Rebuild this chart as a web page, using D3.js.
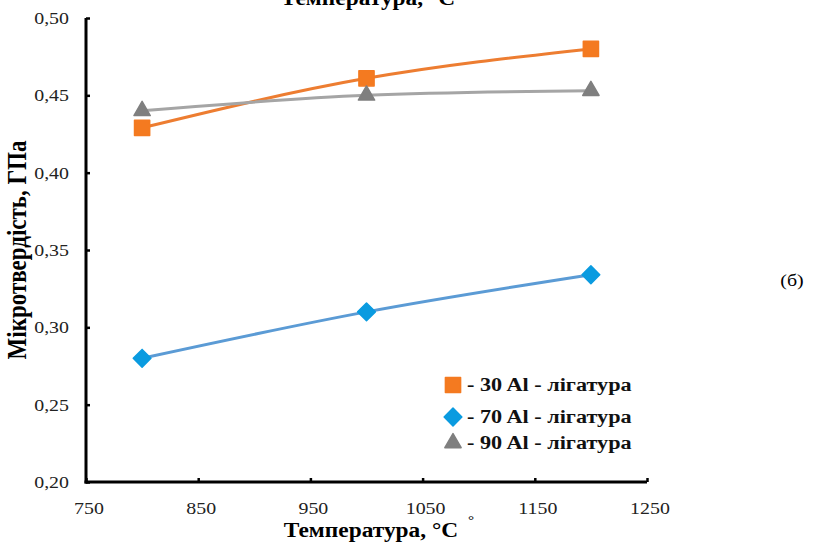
<!DOCTYPE html>
<html lang="uk">
<head>
<meta charset="utf-8">
<title>Мікротвердість</title>
<script src="https://d3js.org/d3.v7.min.js"></script>
<style>
  body { margin: 0; background: #fff; }
  svg text { font-family: "Liberation Serif", "Times New Roman", serif; }
</style>
</head>
<body>
<div id="chart"></div>
<script>
// values
var temps = [800, 1000, 1200];
var al30 = [0.429, 0.461, 0.480];
var al70 = [0.280, 0.310, 0.334];
var al90 = [0.440, 0.450, 0.453];
var seriesNames = ["- 30 Al - лігатура", "- 70 Al - лігатура", "- 90 Al - лігатура"];
var xTicks = [750, 850, 950, 1050, 1150, 1250];
var yTicks = [0.20, 0.25, 0.30, 0.35, 0.40, 0.45, 0.50];

var w = 813, h = 546;
var margin = {top: 18, right: 166, bottom: 64, left: 86};
var stretch = 1.17; // the source image is a bit wider than tall

var svg = d3.select("#chart").append("svg")
  .attr("width", w)
  .attr("height", h);

var xScale = d3.scaleLinear().domain([750, 1250]).range([margin.left, w - margin.right]);
var yScale = d3.scaleLinear().domain([0.20, 0.50]).range([h - margin.bottom, margin.top]);

var fmt = function(d) { return d3.format(".2f")(d).replace(".", ","); };
var at = function(x, y) { return "translate(" + x + "," + y + ") scale(" + stretch + ",1)"; };

// axes
var yAxis = svg.append("g")
  .attr("transform", "translate(" + margin.left + ",0)")
  .call(d3.axisRight(yScale).tickValues(yTicks).tickSize(4).tickFormat(""));
yAxis.select(".domain").attr("stroke-width", 3).attr("d", "M0," + yScale(0.50) + "V" + (yScale(0.20) + 1.5));
yAxis.selectAll(".tick line").attr("stroke-width", 2.5);

var xAxis = svg.append("g")
  .attr("transform", "translate(0," + (h - margin.bottom) + ")")
  .call(d3.axisTop(xScale).tickValues(xTicks).tickSize(4).tickFormat(""));
xAxis.select(".domain").attr("stroke-width", 3).attr("d", "M" + (margin.left - 1.5) + ",0H" + xScale(1250));
xAxis.selectAll(".tick line").attr("stroke-width", 2.5);

// tick labels
svg.append("g").selectAll("text").data(yTicks).join("text")
  .attr("transform", function(d) { return at(69, yScale(d) + 6); })
  .attr("text-anchor", "end")
  .attr("font-size", 17)
  .attr("fill", "#222")
  .text(fmt);

svg.append("g").selectAll("text").data(xTicks).join("text")
  .attr("transform", function(d) { return at(xScale(d) + 3, 514); })
  .attr("text-anchor", "middle")
  .attr("font-size", 17)
  .attr("fill", "#222")
  .text(function(d) { return d; });

// axis titles
svg.append("text")
  .attr("transform", at(371, 537))
  .attr("text-anchor", "middle")
  .attr("font-size", 20).attr("font-weight", "bold")
  .text("Температура, °С");
svg.append("text")
  .attr("transform", at(471, 524))
  .attr("text-anchor", "middle")
  .attr("font-size", 13)
  .text("°");

// cropped title at the very top
svg.append("text")
  .attr("transform", at(368, 5))
  .attr("text-anchor", "middle")
  .attr("font-size", 20).attr("font-weight", "bold")
  .text("Температура, °С");

svg.append("text")
  .attr("transform", "translate(26,250) scale(" + stretch + ",1) rotate(-90)")
  .attr("text-anchor", "middle")
  .attr("font-size", 23).attr("font-weight", "bold")
  .text("Мікротвердість, ГПа");

svg.append("text")
  .attr("transform", at(792, 286))
  .attr("text-anchor", "middle")
  .attr("font-size", 17)
  .text("(б)");

// series
var series = [
  {name: seriesNames[0], values: al30, line: "#ED7D31", fill: "#F47A20", symbol: d3.symbolSquare, size: 230},
  {name: seriesNames[1], values: al70, line: "#5B9BD5", fill: "#0A9BE0", symbol: d3.symbolDiamond2, size: 200},
  {name: seriesNames[2], values: al90, line: "#A5A5A5", fill: "#7F7F7F", symbol: d3.symbolTriangle2, size: 190}
];

var line = d3.line()
  .x(function(d) { return xScale(d[0]); })
  .y(function(d) { return yScale(d[1]); })
  .curve(d3.curveMonotoneX);

series.forEach(function(s) {
  var pts = temps.map(function(t, i) { return [t, s.values[i]]; });
  svg.append("path")
    .datum(pts)
    .attr("d", line)
    .attr("fill", "none")
    .attr("stroke", s.line)
    .attr("stroke-width", 3);
  svg.append("g").selectAll("path").data(pts).join("path")
    .attr("transform", function(d) { return "translate(" + xScale(d[0]) + "," + yScale(d[1]) + ")"; })
    .attr("d", d3.symbol().type(s.symbol).size(s.size))
    .attr("fill", s.fill)
    .attr("stroke", s.fill)
    .attr("stroke-linejoin", "round")
    .attr("stroke-width", 1.5);
});

// legend
var legend = svg.append("g").attr("transform", "translate(453,385)");
var items = legend.selectAll("g").data(series).join("g")
  .attr("transform", function(d, i) { return "translate(0," + [0, 32, 58][i] + ")"; });
items.append("path")
  .attr("d", function(d) { return d3.symbol().type(d.symbol).size(d.size)(); })
  .attr("fill", function(d) { return d.fill; })
  .attr("stroke", function(d) { return d.fill; })
  .attr("stroke-linejoin", "round")
  .attr("stroke-width", 1.5);
items.append("text")
  .attr("transform", at(14, 6))
  .attr("font-size", 19).attr("font-weight", "bold")
  .attr("fill", "#111")
  .text(function(d) { return d.name; });
</script>
</body>
</html>
